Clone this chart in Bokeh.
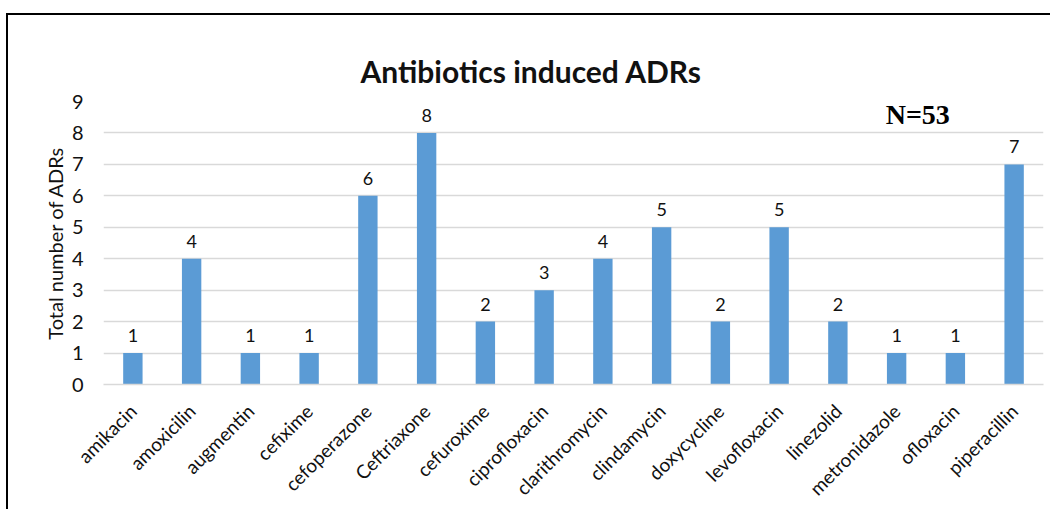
import math
from bokeh.plotting import figure
from bokeh.models import ColumnDataSource, FixedTicker, Label, LabelSet
from bokeh.core.properties import value
from bokeh.embed import file_html
from bokeh.resources import INLINE

categories = ["amikacin", "amoxicilin", "augmentin", "cefixime", "cefoperazone",
              "Ceftriaxone", "cefuroxime", "ciprofloxacin", "clarithromycin",
              "clindamycin", "doxycycline", "levofloxacin", "linezolid",
              "metronidazole", "ofloxacin", "piperacillin"]
values = [1, 4, 1, 1, 6, 8, 2, 3, 4, 5, 2, 5, 2, 1, 1, 7]
y_ticks = list(range(0, 10))
title_text = "Antibiotics induced ADRs"
y_title = "Total number of ADRs"
note_text = "N=53"

FONT = "Lato"
BLUE = "#5B9BD5"
GRID = "#d9d9d9"
TXT = "#111111"

src = ColumnDataSource(dict(cat=categories, val=values, lab=[str(v) for v in values]))

p = figure(x_range=categories, y_range=(0, 9), width=1044, height=496,
           output_backend="svg", toolbar_location=None,
           min_border_left=95, min_border_right=9, min_border_top=86, min_border_bottom=127)
p.styles = {"border-left": "2px solid #000", "border-top": "2px solid #000",
            "margin-left": "6px", "margin-top": "13px"}

p.vbar(x="cat", top="val", width=0.33, source=src, fill_color=BLUE, line_color=None)

labels = LabelSet(x="cat", y="val", text="lab", source=src, text_align="center",
                  text_baseline="bottom", y_offset=11, text_font=value(FONT),
                  text_font_size=value("18px"), text_color=TXT)
p.add_layout(labels)

p.title.text = title_text
p.title.align = "left"
p.title.offset = 257
p.title.text_font = FONT
p.title.text_font_size = "30px"
p.title.text_font_style = "bold"
p.title.text_color = TXT
p.title.standoff = 26

p.add_layout(Label(x=13.86, y=8.6, text=note_text, text_align="center",
                   text_baseline="middle", text_font="Liberation Serif",
                   text_font_size="28px", text_font_style="bold", text_color="#000000"))

p.outline_line_color = None
p.xgrid.grid_line_color = None
p.ygrid.grid_line_color = GRID
p.ygrid.grid_line_width = 1.5

p.yaxis.ticker = FixedTicker(ticks=y_ticks)
p.yaxis.axis_line_color = None
p.yaxis.major_tick_line_color = None
p.yaxis.minor_tick_line_color = None
p.yaxis.major_tick_out = 0
p.yaxis.major_label_standoff = 20
p.yaxis.major_label_text_font = FONT
p.yaxis.major_label_text_font_size = "20px"
p.yaxis.major_label_text_color = TXT
p.yaxis.axis_label = y_title
p.yaxis.axis_label_text_font = FONT
p.yaxis.axis_label_text_font_size = "20px"
p.yaxis.axis_label_text_font_style = "normal"
p.yaxis.axis_label_text_color = TXT
p.yaxis.axis_label_standoff = 2

p.xaxis.axis_line_color = GRID
p.xaxis.axis_line_width = 1.5
p.xaxis.major_tick_line_color = None
p.xaxis.minor_tick_line_color = None
p.xaxis.major_tick_out = 0
p.xaxis.major_label_orientation = math.pi / 4
p.xaxis.major_label_standoff = 23
p.xaxis.major_label_text_font = FONT
p.xaxis.major_label_text_font_size = "19px"
p.xaxis.major_label_text_color = TXT

open("out.html", "w").write(file_html(p, INLINE))
